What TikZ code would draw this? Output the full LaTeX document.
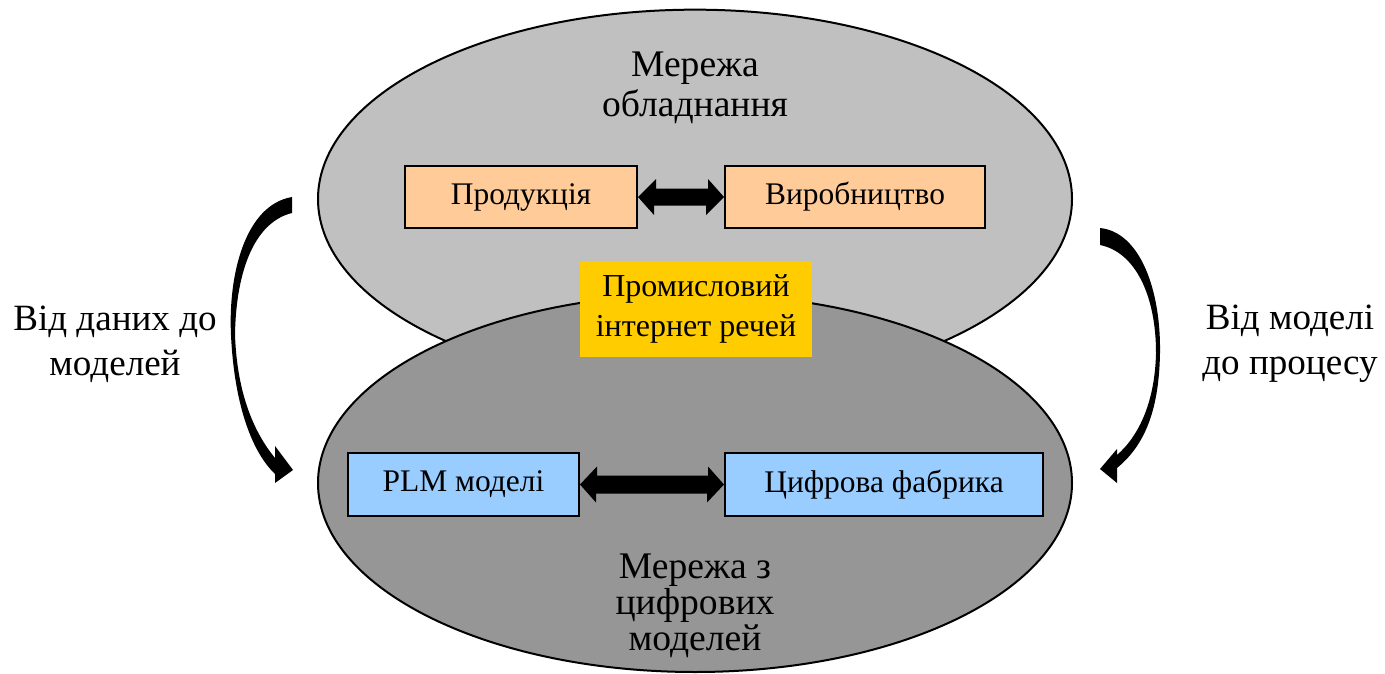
\documentclass[tikz,border=0pt]{standalone}
\usepackage{fontspec}
\setmainfont{Liberation Serif}
\usetikzlibrary{shapes.geometric}
\definecolor{topgray}{HTML}{C0C0C0}
\definecolor{botgray}{HTML}{969696}
\definecolor{boxorange}{HTML}{FFCC99}
\definecolor{boxblue}{HTML}{99CCFF}
\definecolor{boxyellow}{HTML}{FFCC00}
\begin{document}
\begin{tikzpicture}[x=0.75pt,y=-0.75pt,
  oval/.style={ellipse, draw=black, line width=1.5pt, inner sep=0pt, minimum width=565.5pt},
  unitbox/.style={draw=black, line width=1.5pt, inner sep=0pt, minimum height=46.5pt, font=\fontsize{23.6}{27}\selectfont},
  bigtext/.style={align=center, font=\fontsize{28.2}{30}\selectfont},
  dblarrow/.style={fill=black},
  bendarrow/.style={fill=black}
]
\useasboundingbox (0,0) rectangle (1385,674);
\fill[white] (0,0) rectangle (1385,674);

% ellipses
\node[oval, fill=topgray, minimum height=284pt] (topnet) at (695,199) {};
\node[oval, fill=botgray, minimum height=283.5pt] (botnet) at (695,483) {};

% labels inside ellipses
\node[bigtext] (toplabel) at (695,88) {Мережа\\обладнання};
\node[bigtext, font=\fontsize{28.2}{27}\selectfont] (botlabel) at (695,606) {Мережа з\\цифрових\\моделей};

% boxes
\node[unitbox, fill=boxorange, minimum width=174pt] (prod) at (521,197) {Продукція};
\node[unitbox, fill=boxorange, minimum width=195pt] (virob) at (855,197) {Виробництво};
\node[unitbox, fill=boxblue, minimum width=173.25pt, minimum height=47.25pt] (plm) at (463.5,484.5) {PLM моделі};
\node[unitbox, fill=boxblue, minimum width=238.5pt, minimum height=47.25pt] (fab) at (884,484.5) {Цифрова фабрика};

% yellow box
\node[fill=boxyellow, minimum width=174pt, minimum height=72pt, inner sep=0pt, align=center,
      font=\fontsize{24}{30}\selectfont] (iiot) at (696,309) {Промисловий\\інтернет речей};

% double arrows
\fill[dblarrow] (prod.east) -- ++(18,-18) -- ++(0,9.5) -- ++(52,0) -- ++(0,-9.5) -- (virob.west)
  -- ++(-18,18) -- ++(0,-9.5) -- ++(-52,0) -- ++(0,9.5) -- cycle;
\fill[dblarrow] (plm.east) -- ++(17,-18) -- ++(0,9) -- ++(111,0) -- ++(0,-9) -- (fab.west)
  -- ++(-17,18) -- ++(0,-9) -- ++(-111,0) -- ++(0,9) -- cycle;

% curved arrows
\coordinate (lstart) at (292,197);
\coordinate (ltip) at (293,470);
\fill[bendarrow] (lstart) .. controls (245,205) and (228,275) .. (231,335)
  .. controls (234,400) and (250,450) .. (275,474)
  -- (275,483) -- (ltip) -- (275,446) -- (275,458)
  .. controls (252,430) and (237,390) .. (235,335)
  .. controls (236,270) and (255,222) .. (292,213) -- cycle;
\coordinate (rstart) at (1100,228);
\coordinate (rtip) at (1100,469);
\fill[bendarrow] (rstart) .. controls (1140,232) and (1161,290) .. (1160,353)
  .. controls (1159,410) and (1145,445) .. (1117,468)
  -- (1117,483) -- (rtip) -- (1117,449) -- (1117,455)
  .. controls (1140,435) and (1155,400) .. (1156,353)
  .. controls (1156,295) and (1135,252) .. (1100,245) -- cycle;

% side labels
\node[align=center, font=\fontsize{27.8}{34}\selectfont] (leftlabel) at (115,344) {Від даних до\\моделей};
\node[align=center, font=\fontsize{27.8}{34}\selectfont] (rightlabel) at (1290,344) {Від моделі\\до процесу};
\end{tikzpicture}
\end{document}
